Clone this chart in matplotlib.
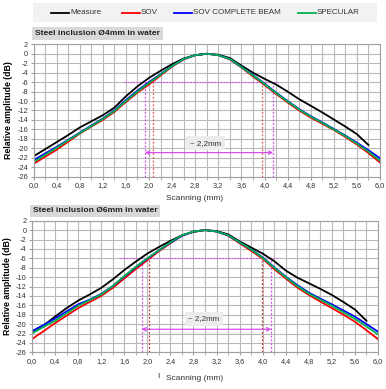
import numpy as np
import matplotlib
matplotlib.use("Agg")
import matplotlib.pyplot as plt
from matplotlib.patches import Rectangle
from matplotlib.lines import Line2D

plt.rcParams['font.family'] = ['Liberation Sans', 'DejaVu Sans']

# ---------------- data ----------------
x = np.round(np.arange(0, 6.01, 0.2), 1)
x_meas = x[:-1]  # measure stops at 5.8

top_measure = [-21.7, -20.2, -18.7, -17.2, -15.6, -14.3, -13.0, -11.4, -9.0, -6.9, -5.1,
               -3.6, -2.2, -1.0, -0.3, 0.0, -0.2, -0.9, -2.5, -4.0, -5.3, -6.5, -8.0,
               -9.6, -11.0, -12.4, -13.9, -15.4, -17.0, -19.3]
top_sov = [-23.3, -21.8, -20.3, -18.6, -16.9, -15.4, -14.0, -12.3, -10.2, -8.2, -6.5,
           -4.6, -2.7, -1.2, -0.3, 0.0, -0.3, -1.2, -2.9, -4.8, -6.6, -8.5, -10.3,
           -12.0, -13.5, -14.8, -16.1, -17.6, -19.2, -21.0, -23.0]
top_complete = [-22.5, -21.1, -19.7, -18.2, -16.7, -15.2, -13.7, -12.0, -9.8, -7.8, -6.0,
                -4.3, -2.6, -1.1, -0.3, 0.0, -0.3, -1.1, -2.8, -4.5, -6.3, -8.2, -10.0,
                -11.7, -13.2, -14.5, -15.9, -17.3, -18.8, -20.4, -22.1]
top_specular = [-22.9, -21.4, -19.9, -18.3, -16.8, -15.3, -13.8, -12.1, -10.0, -8.0, -6.2,
                -4.4, -2.6, -1.1, -0.3, 0.0, -0.3, -1.1, -2.8, -4.6, -6.4, -8.3, -10.1,
                -11.8, -13.3, -14.6, -16.0, -17.4, -19.0, -20.7, -22.6]

bot_measure = [-21.6, -20.3, -18.4, -16.6, -15.0, -13.7, -12.3, -10.5, -8.5, -6.7, -5.0,
               -3.6, -2.3, -1.1, -0.4, 0.0, -0.2, -0.9, -2.4, -3.7, -5.0, -6.6, -8.6,
               -10.1, -11.3, -12.5, -13.8, -15.3, -16.9, -19.3]
bot_sov = [-23.2, -21.5, -19.8, -18.2, -16.6, -15.3, -14.0, -12.3, -10.3, -8.3, -6.4,
           -4.5, -2.8, -1.2, -0.3, 0.0, -0.3, -1.2, -2.8, -4.4, -6.1, -8.3, -10.3,
           -12.2, -13.8, -15.2, -16.6, -18.0, -19.5, -21.3, -23.2]
bot_complete = [-21.5, -20.2, -18.8, -17.3, -15.8, -14.8, -13.6, -11.9, -9.9, -7.9, -6.1,
                -4.3, -2.7, -1.2, -0.3, 0.0, -0.3, -1.1, -2.6, -4.1, -5.8, -7.9, -9.9,
                -11.7, -13.3, -14.6, -15.8, -17.1, -18.4, -20.0, -21.6]
bot_specular = [-22.0, -20.6, -19.3, -17.7, -16.1, -14.9, -13.7, -11.9, -9.8, -7.8, -6.0,
                -4.3, -2.6, -1.1, -0.3, 0.0, -0.3, -1.1, -2.6, -4.1, -5.9, -8.0, -10.0,
                -11.9, -13.5, -14.8, -16.1, -17.5, -18.9, -20.5, -22.2]

# -6 dB crossings (measure, SOV) for each panel
top_meas_cross = [1.93, 4.15]
top_sov_cross = [2.07, 3.95]
bot_meas_cross = [1.90, 4.15]
bot_sov_cross = [2.03, 3.99]

series_names = ["Measure", "SOV", "SOV COMPLETE BEAM", "SPECULAR"]
series_colors = ["#000000", "#ff0000", "#0000ff", "#00b050"]
panel_titles = ["Steel inclusion Ø4mm in water", "Steel inclusion Ø6mm in water"]
xticks = np.round(np.arange(0, 6.01, 0.4), 1)
xticklabels = [f"{v:.1f}".replace(".", ",") for v in xticks]
yticks = list(range(2, -27, -2))
width_label = "~ 2,2mm"

MAG = "#d84cf0"
W, H = 386, 389

fig = plt.figure(figsize=(W / 100, H / 100), dpi=100)

def fx(px):
    return px / W

def fy(py):
    return 1 - py / H

# legend box
fig.patches.append(Rectangle((fx(33), fy(22)), fx(377) - fx(33), fy(3) - fy(22),
                             transform=fig.transFigure, facecolor="#f2f2f2",
                             edgecolor="none", zorder=0))
leg_pos = [51, 122, 174, 298]
for name, col, px in zip(series_names, series_colors, leg_pos):
    fig.lines.append(Line2D([fx(px), fx(px + 18)], [fy(12.5), fy(12.5)],
                            transform=fig.transFigure, color=col, lw=1.3))
    fig.text(fx(px + 19), fy(12.5), name, fontsize=5.8, va="center", ha="left",
             color="#333333")

panels = [
    dict(rect=(33.5, 44.3, 380, 176.7), title_box=(32, 27, 163, 40),
         meas=top_measure, sov=top_sov, comp=top_complete, spec=top_specular,
         mc=top_meas_cross, sc=top_sov_cross, sovcol="#e85a5a",
         hl=(1.57, 4.27), arrow_y=-20.9, xlab_y=198),
    dict(rect=(32, 220.7, 378, 352.3), title_box=(30, 205, 160, 217),
         meas=bot_measure, sov=bot_sov, comp=bot_complete, spec=bot_specular,
         mc=bot_meas_cross, sc=bot_sov_cross, sovcol="#c0392b",
         hl=(1.52, 4.25), arrow_y=-21.1, xlab_y=378),
]

for i, p in enumerate(panels):
    l, t, r, b = p["rect"]
    ax = fig.add_axes([fx(l), fy(b), fx(r) - fx(l), fy(t) - fy(b)])
    ax.set_xlim(0, 6)
    ax.set_ylim(-26, 2)
    ax.set_xticks(np.round(np.arange(0, 6.01, 0.2), 1), minor=True)
    ax.set_xticks(xticks)
    ax.set_xticklabels(xticklabels, fontsize=5.3, color="#333333")
    ax.set_yticks(yticks)
    ax.set_yticklabels([str(v) for v in yticks], fontsize=5.3, color="#333333")
    ax.grid(True, which="both", axis="x", color="#b8b8b8", lw=0.8)
    ax.grid(True, which="major", axis="y", color="#b8b8b8", lw=0.8)
    ax.set_axisbelow(True)
    for s in ax.spines.values():
        s.set_color("#a0a0a0")
        s.set_linewidth(0.8)
    ax.tick_params(axis="both", which="both", length=2, color="#a0a0a0", pad=2)
    ax.set_ylabel("Relative amplitude (dB)", fontsize=6.3, fontweight="bold", labelpad=3)

    # annotations
    ax.hlines(-6, p["hl"][0], p["hl"][1], colors=MAG, linestyles=(0, (1.2, 1.2)), lw=0.9)
    for xc in p["mc"]:
        ax.vlines(xc, -26, -6, colors=MAG, linestyles=(0, (1.5, 1.5)), lw=0.9)
    for xc in p["sc"]:
        ax.vlines(xc, -26, -6, colors=p["sovcol"], linestyles=(0, (1.5, 1.5)), lw=0.9)
    ax.annotate("", xy=(p["mc"][0], p["arrow_y"]), xytext=(p["mc"][1], p["arrow_y"]),
                arrowprops=dict(arrowstyle="<->", color=MAG, lw=0.9,
                                shrinkA=0, shrinkB=0, mutation_scale=6))
    ax.text(2.98, -18.9, width_label, fontsize=5.8, ha="center", va="center",
            color="#333333",
            bbox=dict(boxstyle="square,pad=0.45", facecolor="#ececec", edgecolor="none"))

    ax.plot(x_meas, p["meas"], color=series_colors[0], lw=1.3)
    ax.plot(x, p["sov"], color=series_colors[1], lw=1.3)
    ax.plot(x, p["comp"], color=series_colors[2], lw=1.3)
    ax.plot(x, p["spec"], color=series_colors[3], lw=1.3)

    # title box
    tl, tt, tr, tb = p["title_box"]
    fig.patches.append(Rectangle((fx(tl), fy(tb)), fx(tr) - fx(tl), fy(tt) - fy(tb),
                                 transform=fig.transFigure, facecolor="#d9d9d9",
                                 edgecolor="none"))
    fig.text(fx((tl + tr) / 2), fy((tt + tb) / 2), panel_titles[i], fontsize=6.1,
             fontweight="bold", va="center", ha="center", color="#222222")

    fig.text(fx(195), fy(p["xlab_y"]), "Scanning (mm)", fontsize=6.0, ha="center",
             va="center", color="#333333")

fig.text(fx(158), fy(377), "I", fontsize=6, ha="center", va="center", color="#333333")

fig.savefig("out.png", dpi=100)
